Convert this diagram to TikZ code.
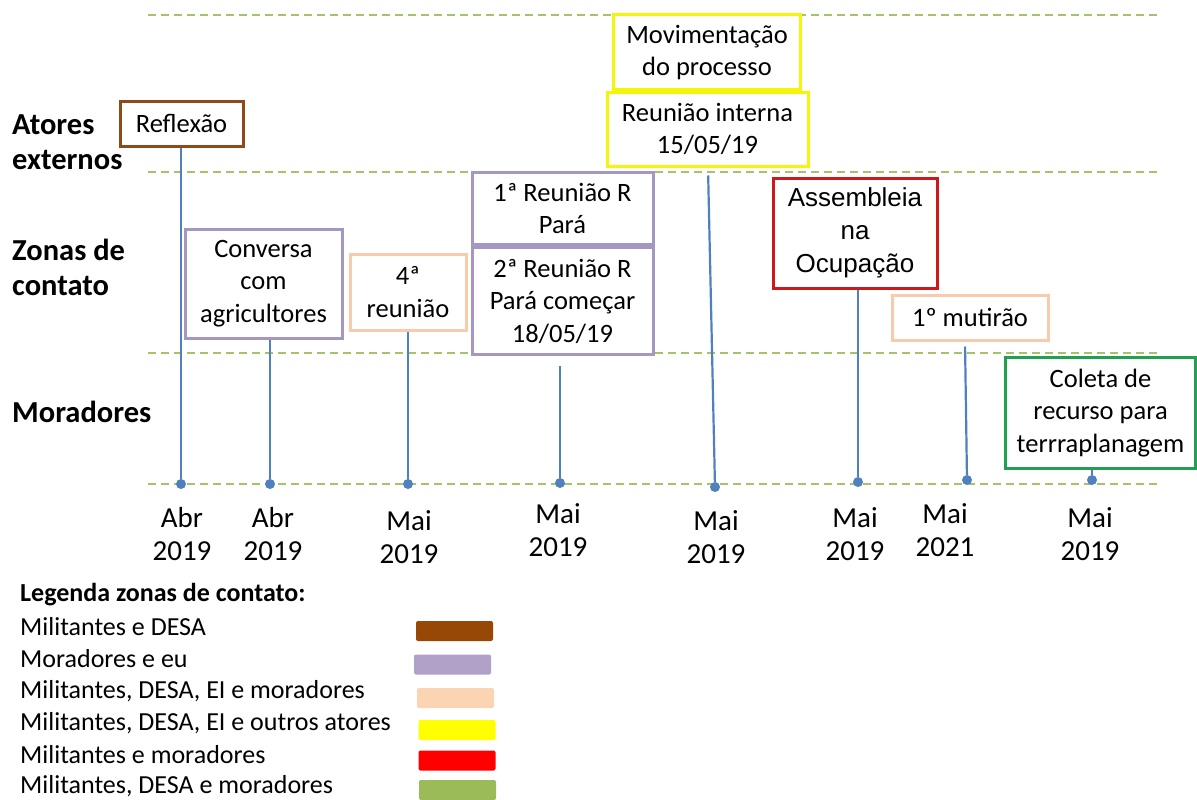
\documentclass[tikz,border=0pt]{standalone}
\usepackage{fontspec}
\setmainfont{Carlito}
\newfontfamily\arialf{Liberation Sans}
\definecolor{cBrown}{HTML}{8E4A1A}
\definecolor{cPurple}{HTML}{A497C2}
\definecolor{cPeach}{HTML}{F8CBAD}
\definecolor{cYellow}{HTML}{F5F50A}
\definecolor{cRed}{HTML}{CC1A1A}
\definecolor{cGreen}{HTML}{22A052}
\definecolor{cBlue}{HTML}{4F81BD}
\definecolor{cDash}{HTML}{A5C46A}
\definecolor{sBrown}{HTML}{974706}
\definecolor{sPurple}{HTML}{B1A0C7}
\definecolor{sPeach}{HTML}{FBD4B4}
\definecolor{sYellow}{HTML}{FFFF00}
\definecolor{sRed}{HTML}{FF0000}
\definecolor{sGreen}{HTML}{9BBB59}
\begin{document}
\begin{tikzpicture}[x=1pt,y=-1pt,
  box/.style={draw, line width=3pt, fill=white, align=center, inner sep=0pt, font=\fontsize{26.5}{32.5}\selectfont},
  gline/.style={draw=cDash, line width=2pt, dash pattern=on 8pt off 5pt},
  vline/.style={draw=cBlue, line width=2.2pt},
  dot/.style={circle, fill=cBlue, inner sep=0pt, minimum size=10pt},
  rowlab/.style={anchor=west, align=left, inner sep=0pt, font=\fontsize{30.5}{35}\selectfont\bfseries},
  datelab/.style={align=center, inner sep=0pt, font=\fontsize{29}{33.5}\selectfont},
  legtext/.style={anchor=west, inner sep=0pt, font=\fontsize{26}{28}\selectfont},
  swatch/.style={rounded corners=2pt, minimum width=77pt, minimum height=20pt, inner sep=0pt}]
\useasboundingbox (0,0) rectangle (1197,800);

% dashed level lines
\coordinate (g1a) at (148,15);  \coordinate (g1b) at (1160,15);
\coordinate (g2a) at (148,172); \coordinate (g2b) at (1160,172);
\coordinate (g3a) at (148,353); \coordinate (g3b) at (1160,353);
\coordinate (g4a) at (148,484); \coordinate (g4b) at (1160,484);
\draw[gline] (g1a) -- (g1b);
\draw[gline] (g2a) -- (g2b);
\draw[gline] (g3a) -- (g3b);
\draw[gline] (g4a) -- (g4b);

% row labels
\node[rowlab] (rA) at (12,142) {Atores\\externos};
\node[rowlab] (rZ) at (12,267) {Zonas de\\contato};
\node[rowlab] (rM) at (12,412) {Moradores};

% dots
\node[dot] (d1) at (181,484) {};
\node[dot] (d2) at (270,484) {};
\node[dot] (d3) at (408,484) {};
\node[dot] (d4) at (560,483) {};
\node[dot] (d5) at (715,487) {};
\node[dot] (d6) at (858,482) {};
\node[dot] (d7) at (967,480) {};
\node[dot] (d8) at (1092,480) {};

% boxes
\node[box, draw=cBrown, minimum width=123pt, minimum height=45pt] (refl) at (181.5,123.5) {Reflexão};
\node[box, draw=cPurple, minimum width=157pt, minimum height=109pt] (conv) at (263.5,283.5) {Conversa\\com\\agricultores};
\node[box, draw=cPeach, minimum width=116pt, minimum height=76pt] (r4) at (408,292) {4ª\\reunião};
\node[box, draw=cPurple, minimum width=181pt, minimum height=72pt] (r1p) at (562.5,208.5) {1ª Reunião R\\Pará};
\node[box, draw=cPurple, minimum width=181pt, minimum height=107pt] (r2p) at (562.5,301) {2ª Reunião R\\Pará começar\\18/05/19};
\node[box, draw=cYellow, minimum width=187pt, minimum height=75pt] (mov) at (707,52.5) {Movimentação\\do processo};
\node[box, draw=cYellow, minimum width=201pt, minimum height=74pt] (rint) at (707.5,129) {Reunião interna\\15/05/19};
\node[box, draw=cRed, minimum width=164pt, minimum height=110pt, font=\arialf\fontsize{26}{33}\selectfont] (ass) at (855,233) {Assembleia\\na\\Ocupação};
\node[box, draw=cPeach, minimum width=156pt, minimum height=45pt] (mut) at (970,317.5) {1º mutirão};
\node[box, draw=cGreen, minimum width=190pt, minimum height=111pt] (col) at (1100.5,413) {Coleta de\\recurso para\\terrraplanagem};

% connectors
\draw[vline] (refl.south -| d1) -- (d1);
\draw[vline] (conv.south -| d2) -- (d2);
\draw[vline] (r4.south -| d3) -- (d3);
\draw[vline, shorten <=10pt] (r2p.south -| d4) -- (d4);
\draw[vline, shorten <=8pt] ([xshift=0.5pt]rint.south) -- (d5);
\draw[vline] (ass.south -| d6) -- (d6);
\draw[vline, shorten <=5pt] ([xshift=-5pt]mut.south) -- (d7);
\draw[vline] (col.south -| d8) -- (d8);

% dates
\node[datelab] (t1) at (182,534) {Abr\\2019};
\node[datelab] (t2) at (273,534) {Abr\\2019};
\node[datelab] (t3) at (409,537) {Mai\\2019};
\node[datelab] (t4) at (558,530) {Mai\\2019};
\node[datelab] (t5) at (716,537) {Mai\\2019};
\node[datelab] (t6) at (855,534) {Mai\\2019};
\node[datelab] (t7) at (945,530) {Mai\\2021};
\node[datelab] (t8) at (1090,534) {Mai\\2019};

% legend
\node[legtext, font=\fontsize{26}{28}\selectfont\bfseries] (lt) at (20,595) {Legenda zonas de contato:};
\node[legtext] (l1) at (20,627) {Militantes e DESA};
\node[legtext] (l2) at (20,659) {Moradores e eu};
\node[legtext] (l3) at (20,691) {Militantes, DESA, EI e moradores};
\node[legtext] (l4) at (20,723) {Militantes, DESA, EI e outros atores};
\node[legtext] (l5) at (20,755) {Militantes e moradores};
\node[legtext] (l6) at (20,786) {Militantes, DESA e moradores};
\node[swatch, fill=sBrown] (s1) at (454.5,631) {};
\node[swatch, fill=sPurple] (s2) at (452.5,664.5) {};
\node[swatch, fill=sPeach] (s3) at (455.5,698) {};
\node[swatch, fill=sYellow] (s4) at (457,730) {};
\node[swatch, fill=sRed] (s5) at (457,760.5) {};
\node[swatch, fill=sGreen] (s6) at (457.5,790) {};
\end{tikzpicture}
\end{document}
